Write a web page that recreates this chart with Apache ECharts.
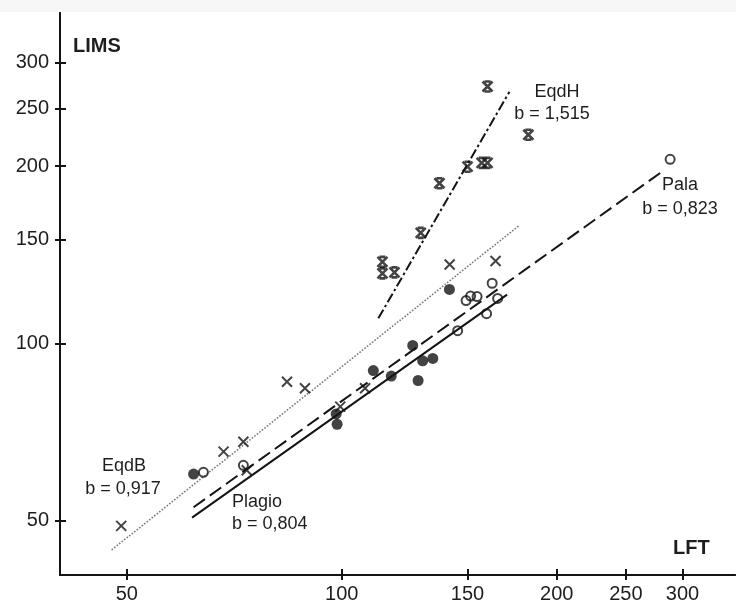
<!DOCTYPE html>
<html>
<head>
<meta charset="utf-8">
<script src="https://cdn.jsdelivr.net/npm/echarts@6/dist/echarts.min.js"></script>
<style>
  html, body { margin: 0; padding: 0; background: #ffffff; }
  #chart { width: 736px; height: 610px; }
</style>
</head>
<body>
<div id="chart"></div>
<script>
// Tick values shown on both logarithmic axes
const xTicks = [50, 100, 150, 200, 250, 300];
const yTicks = [50, 100, 150, 200, 250, 300];

// EqdH (asterisk markers)
const eqdHLft  = [114, 114, 118.5, 129, 137, 150, 157, 160, 160, 182.5];
const eqdHLims = [137.5, 131.5, 132, 154, 187, 199.5, 202.5, 202.5, 273, 226];

// EqdB (cross markers)
const eqdBLft  = [49.1, 68.3, 72.8, 73.6, 83.8, 88.8, 99.5, 107.8, 141.6, 164.2];
const eqdBLims = [49.0, 65.5, 68.1, 60.9, 86.1, 83.9, 78.1, 83.9, 136.1, 138.0];

// Plagio (filled circles)
const plagioLft  = [62.0, 98.2, 98.5, 110.7, 117.3, 125.7, 129.8, 134.1, 127.9, 141.5];
const plagioLims = [60.0, 75.9, 72.9, 89.9, 88.0, 99.2, 93.4, 94.3, 86.5, 123.5];

// Pala (open circles)
const palaLft  = [64.0, 72.8, 145.3, 149.3, 151.5, 154.7, 162.4, 165.3, 159.5, 288.3];
const palaLims = [60.4, 62.1, 105.1, 118.2, 120.3, 120.1, 126.5, 119.2, 112.3, 205.3];

// Allometric fit lines: [start, end] in LFT and LIMS
const eqdHFitLft  = [112.5, 171.7];
const eqdHFitLims = [110.3, 267.4];
const eqdBFitLft  = [47.6, 176.8];
const eqdBFitLims = [44.6, 158.2];
const plagioFitLft  = [61.7, 170.4];
const plagioFitLims = [50.6, 121.0];
const palaFitLft  = [62.0, 280.7];
const palaFitLims = [52.7, 195.6];

const log = Math.log10;
const toPoints = (xs, ys) => xs.map((x, i) => [log(x), log(ys[i])]);

const INK = '#141414';
const FONT = '"Liberation Sans", Arial, sans-serif';

const crossPath = 'path://M0,0L10,10M10,0L0,10';
const starPath = 'path://M0,0L10,10M10,0L0,10M2,0L8,0M2,10L8,10';

const X_RANGE = [40.3, 355.4];
const Y_RANGE = [40.44, 363.8];
const GRID_BOX = { left: 60, right: 1, top: 13, bottom: 35, containLabel: false };

// Axis in grid 0 carries the outward ticks and labels;
// the twin axis in grid 1 adds inward ticks so each tick crosses the line.
function axisPair(dim, range, ticks) {
  const tickVals = ticks.map(log);
  const fmt = v => String(Math.round(Math.pow(10, v)));
  const base = {
    type: 'value',
    min: log(range[0]),
    max: log(range[1]),
    splitLine: { show: false },
    position: dim === 'x' ? 'bottom' : 'left',
    axisLine: { show: true, onZero: false, lineStyle: { color: INK, width: 2 } }
  };
  return [
    Object.assign({}, base, {
      gridIndex: 0,
      axisTick: { show: true, inside: false, length: 5, customValues: tickVals, lineStyle: { color: INK, width: 2 } },
      axisLabel: {
        customValues: tickVals, formatter: fmt,
        color: '#1e1e1e', fontSize: 20, fontFamily: FONT,
        margin: dim === 'x' ? 9 : 11
      }
    }),
    Object.assign({}, base, {
      gridIndex: 1,
      axisTick: { show: true, inside: true, length: 6, customValues: tickVals, lineStyle: { color: INK, width: 2 } },
      axisLabel: { show: false }
    })
  ];
}

function fitLine(name, xs, ys, lineStyle) {
  return {
    name, type: 'line', xAxisIndex: 0, yAxisIndex: 0,
    data: toPoints(xs, ys), symbol: 'none', silent: true, z: 2,
    lineStyle: Object.assign({ color: INK, width: 2 }, lineStyle)
  };
}

function textEl(text, x, y, font, align) {
  return {
    type: 'text', x, y, z: 10,
    style: {
      text, font, fill: '#1e1e1e',
      align: align || 'center', textAlign: align || 'center',
      verticalAlign: 'middle', textVerticalAlign: 'middle'
    }
  };
}

const chart = echarts.init(document.getElementById('chart'), null, { renderer: 'canvas' });

chart.setOption({
  backgroundColor: '#ffffff',
  animation: false,
  grid: [Object.assign({}, GRID_BOX), Object.assign({}, GRID_BOX)],
  xAxis: axisPair('x', X_RANGE, xTicks),
  yAxis: axisPair('y', Y_RANGE, yTicks),
  graphic: [
    { type: 'rect', shape: { x: 0, y: 0, width: 736, height: 12 }, style: { fill: '#f7f7f7' }, z: -1 },
    textEl('LIMS', 73, 46, 'bold 20px ' + FONT, 'left'),
    textEl('LFT', 673, 548, 'bold 20px ' + FONT, 'left'),
    textEl('EqdH', 557, 92, '18px ' + FONT),
    textEl('b = 1,515', 552, 114, '18px ' + FONT),
    textEl('Pala', 680, 185, '18px ' + FONT),
    textEl('b = 0,823', 680, 209, '18px ' + FONT),
    textEl('EqdB', 124, 466, '18px ' + FONT),
    textEl('b = 0,917', 123, 489, '18px ' + FONT),
    textEl('Plagio', 232, 502, '18px ' + FONT, 'left'),
    textEl('b = 0,804', 232, 524, '18px ' + FONT, 'left')
  ],
  series: [
    fitLine('EqdB fit', eqdBFitLft, eqdBFitLims, { color: '#7a7a7a', width: 1.6, type: [1.6, 1.6] }),
    fitLine('Plagio fit', plagioFitLft, plagioFitLims, { type: 'solid' }),
    fitLine('Pala fit', palaFitLft, palaFitLims, { type: [14, 6] }),
    fitLine('EqdH fit', eqdHFitLft, eqdHFitLims, { type: [10, 3, 2.5, 3] }),
    {
      name: 'EqdB', type: 'scatter', z: 5,
      data: toPoints(eqdBLft, eqdBLims),
      symbol: crossPath, symbolSize: 10,
      itemStyle: { color: 'transparent', borderColor: INK, borderWidth: 2 }
    },
    {
      name: 'EqdH', type: 'scatter', z: 5,
      data: toPoints(eqdHLft, eqdHLims),
      symbol: starPath, symbolSize: 10,
      itemStyle: { color: 'transparent', borderColor: INK, borderWidth: 2.6 }
    },
    {
      name: 'Plagio', type: 'scatter', z: 5,
      data: toPoints(plagioLft, plagioLims),
      symbol: 'circle', symbolSize: 11,
      itemStyle: { color: INK, borderWidth: 0 }
    },
    {
      name: 'Pala', type: 'scatter', z: 5,
      data: toPoints(palaLft, palaLims),
      symbol: 'circle', symbolSize: 9,
      itemStyle: { color: 'transparent', borderColor: INK, borderWidth: 2 }
    },
    {
      // binds the twin axes so their scale is active; draws nothing
      name: 'twin', type: 'scatter', xAxisIndex: 1, yAxisIndex: 1,
      data: toPoints(palaLft, palaLims), symbolSize: 0, silent: true,
      itemStyle: { opacity: 0 }
    }
  ]
});
</script>
</body>
</html>
